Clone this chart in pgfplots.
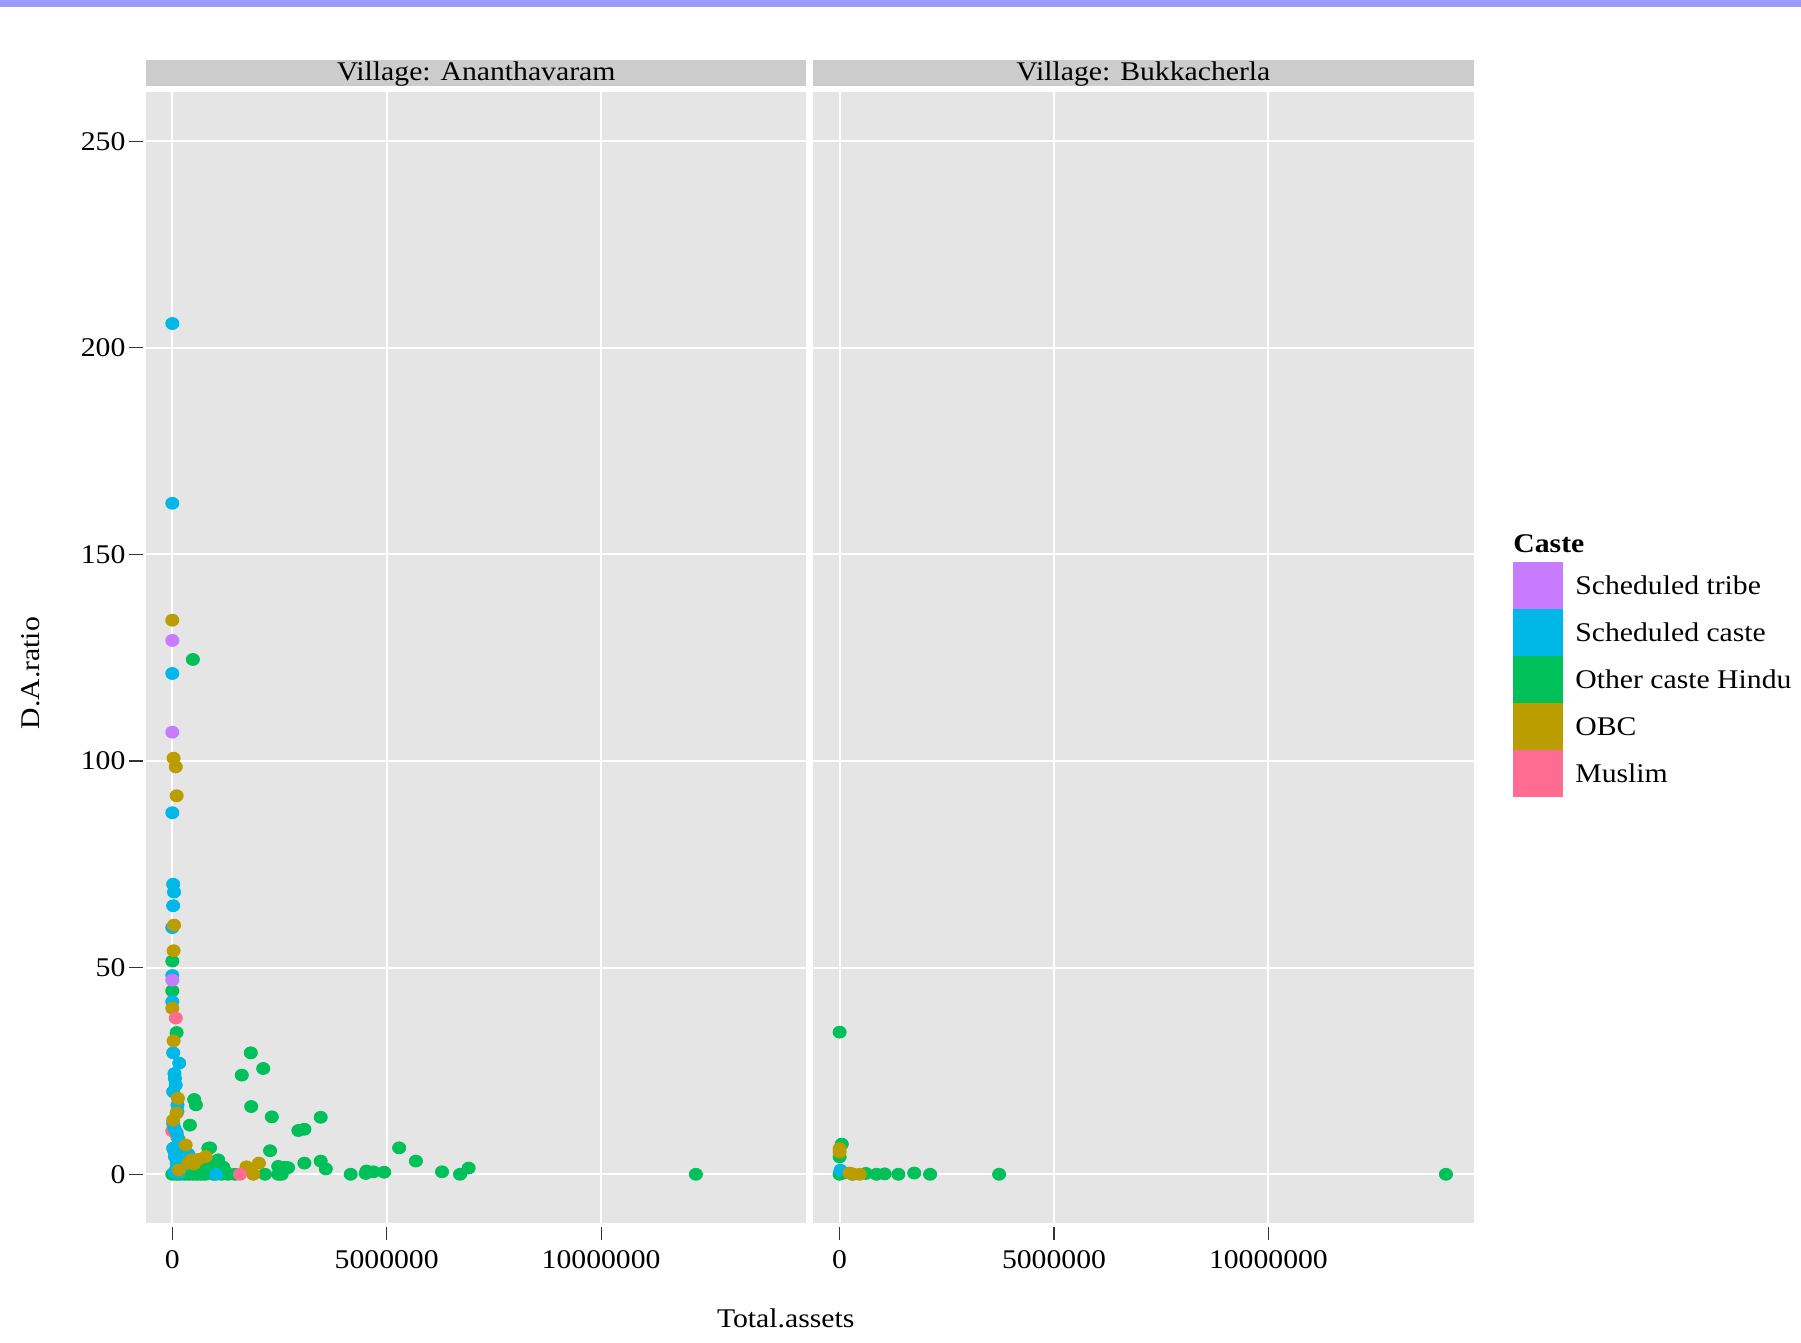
\documentclass[border=0pt]{standalone}
\usepackage{fontspec}
\setmainfont{Liberation Serif}[FakeStretch=1.1]
\usepackage{pgfplots}
\pgfplotsset{compat=1.18}
\definecolor{panelbg}{HTML}{E5E5E5}
\definecolor{stripbg}{HTML}{CCCCCC}
\definecolor{tickcol}{HTML}{333333}
\definecolor{topbar}{HTML}{9999FF}
\definecolor{cST}{HTML}{C77CFF}
\definecolor{cSC}{HTML}{00B8E7}
\definecolor{cOT}{HTML}{00C05A}
\definecolor{cOBC}{HTML}{BB9D00}
\definecolor{cMU}{HTML}{FF6C91}
\newcommand{\tfont}{\fontsize{13.5}{16}\selectfont}
\pgfplotsset{
  facet/.style={
    scale only axis, width=330.2pt, height=565.7pt,
    anchor=south west,
    xmin=-0.616, xmax=14.785, ymin=-11.86, ymax=261.96,
    axis background/.style={fill=panelbg},
    axis line style={draw=none},
    xtick={0,5,10}, xticklabels={0,5000000,10000000},
    ytick={0,50,100,150,200,250},
    xtick pos=bottom, ytick pos=left,
    grid=major, major grid style={white, line width=1pt},
    tick align=outside, major tick length=6.7pt,
    xtick style={draw=tickcol, line width=0.6pt, yshift=-1.7pt},
    ytick style={draw=tickcol, line width=0.6pt, xshift=-1.7pt},
    tick label style={font=\tfont},
    xticklabel style={yshift=-3.5pt},
    /pgf/number format/assume math mode=true,
    every axis plot/.append style={only marks, mark=*, mark size=3pt},
  },
  ser/.style={color=#1, mark options={draw=none, fill=#1, xscale=1.1}},
}
\begin{document}
\begin{tikzpicture}
\useasboundingbox (0,0) rectangle (900.5pt,671.5pt);
\fill[white] (0,0) rectangle (900.5pt,671.5pt);
\fill[topbar] (0,668.15pt) rectangle (900.5pt,671.5pt);
% strips
\fill[stripbg] (72.95pt,628.45pt) rectangle (403.15pt,641.65pt);
\fill[stripbg] (406.6pt,628.45pt) rectangle (736.85pt,641.65pt);
\node[anchor=base, font=\tfont, inner sep=0pt] at (238.05pt,631pt) {Village: Ananthavaram};
\node[anchor=base, font=\tfont, inner sep=0pt] at (571.7pt,631pt) {Village: Bukkacherla};

\begin{axis}[facet, at={(72.95pt,59.85pt)}]
\addplot[ser=cOT] coordinates {
(0.48,124.6) (0.0,51.6) (0.0,44.4) (0.1,34.3) (0.51,18.1) (0.55,16.8) (0.41,11.9)
(1.62,24.0) (2.12,25.6) (1.83,29.4) (1.84,16.4) (2.32,13.9) (3.46,13.8) (2.94,10.6)
(3.08,10.9) (5.29,6.4) (5.68,3.2) (2.28,5.7) (0.84,6.3) (0.88,6.4) (0.18,5.9)
(1.07,3.5) (1.19,1.7) (0.88,1.9) (0.99,1.1) (3.08,2.7) (3.46,3.2) (3.58,1.3)
(2.47,1.9) (2.63,1.7) (2.70,1.6) (2.16,0) (2.55,0) (2.47,0) (4.16,0) (4.51,0.2)
(4.53,0.8) (4.69,0.6) (4.94,0.5) (6.29,0.6) (6.71,0) (6.91,1.5) (12.21,0)
(0.0,0) (0.18,0) (0.38,0) (0.57,0) (0.77,0) (0.96,0) (1.15,0) (1.46,0) (0.1,0)
(0.28,0) (0.48,0) (0.67,0) (1.3,0) (0.05,0.5) (0.12,9.0) (0.2,1.0) (0.6,2.0) (1.25,0.5)
};
\addplot[ser=cMU] coordinates {
(0.0,10.5) (0.1,9.5)
};
\addplot[ser=cSC] coordinates {
(0.0,205.9) (0.0,162.4) (0.0,121.2) (0.0,87.5) (0.02,70.2) (0.04,68.3) (0.02,65.0)
(0.0,59.7) (0.0,48.1) (0.0,41.8) (0.02,29.4) (0.16,26.9) (0.05,24.4) (0.06,23.2)
(0.08,21.6) (0.02,20.0) (0.12,16.8) (0.12,15.2) (0.02,12.3) (0.1,10.1) (0.02,6.3)
(0.37,4.9) (0.06,4.3) (0.1,2.7) (1.02,0.0) (0.05,0.5) (0.1,1.5) (0.15,8.3)
(0.2,3.5) (0.05,5.5) (0.25,2.0) (0.15,0.3) (0.05,11.1)
};
\addplot[ser=cOBC] coordinates {
(0.0,134.1) (0.03,100.7) (0.08,98.6) (0.1,91.6) (0.04,60.3) (0.03,54.1) (0.0,40.2)
(0.03,32.3) (0.13,18.4) (0.1,14.8) (0.02,13.1) (0.31,7.1) (0.37,2.7) (0.45,3.5)
(0.61,3.6) (0.78,4.3) (1.73,1.8) (2.02,2.7) (1.89,0) (0.15,1.0) (0.5,2.5)
};
\addplot[ser=cST] coordinates {
(0.0,129.2) (0.0,107.0) (0.0,47.0)
};
\addplot[ser=cMU] coordinates {
(0.08,37.8) (1.58,0)
};
\end{axis}

\begin{axis}[facet, at={(406.6pt,59.85pt)}, yticklabels={}, ytick style={draw=none}]
\addplot[ser=cOT] coordinates {
(0.0,34.4) (0.05,7.3) (0.0,4.2) (0.0,0.0) (0.1,0.3) (0.3,0.0) (0.61,0.2)
(0.86,0.0) (1.05,0.1) (1.37,0.0) (1.74,0.3) (2.11,0.0) (3.72,0.0) (14.14,0.0)
};
\addplot[ser=cSC] coordinates {
(0.02,1.0)
};
\addplot[ser=cOBC] coordinates {
(0.0,6.2) (0.0,5.4) (0.23,0.3) (0.47,0.0) (0.3,0.1)
};
\end{axis}

% axis titles
\node[anchor=base, font=\tfont, inner sep=0pt] at (392.85pt,7.5pt) {Total.assets};
\node[anchor=base, rotate=90, font=\tfont, inner sep=0pt] at (20pt,335pt) {D.A.ratio};

% legend
\node[anchor=base west, font=\tfont\bfseries, inner sep=0pt] at (756.5pt,395.15pt) {Caste};
\foreach \c/\lab [count=\i from 0] in {cST/Scheduled tribe, cSC/Scheduled caste, cOT/Other caste Hindu, cOBC/OBC, cMU/Muslim}{
  \pgfmathsetmacro{\ytop}{390.35-23.44*\i}
  \fill[\c] (756.35pt,\ytop pt) rectangle (781.25pt,\ytop pt-23.44pt);
  \node[anchor=base west, font=\tfont, inner sep=0pt] at (787.5pt,\ytop pt-11.72pt-4.6pt) {\lab};
}
\end{tikzpicture}
\end{document}
